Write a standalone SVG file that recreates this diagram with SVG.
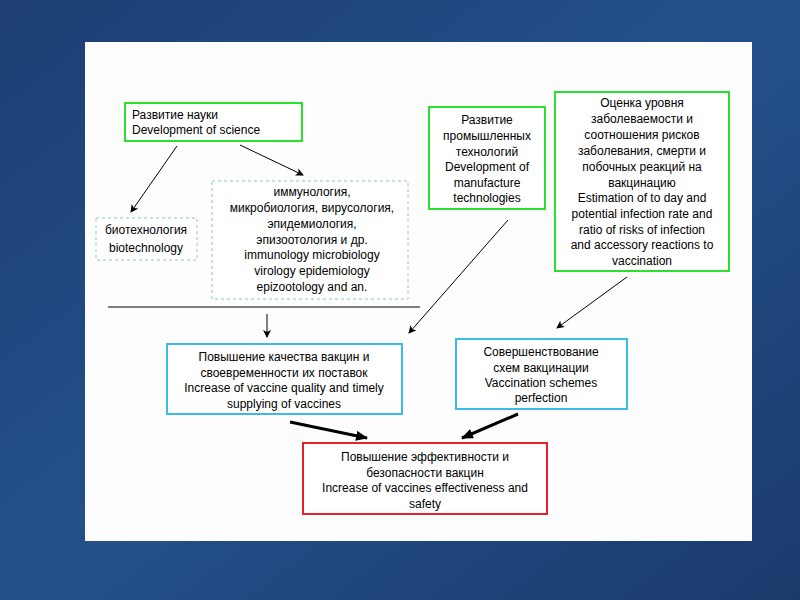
<svg xmlns="http://www.w3.org/2000/svg" width="800" height="600" viewBox="0 0 800 600">
<defs>
<linearGradient id="bg" x1="0" y1="0" x2="1" y2="1"><stop offset="0" stop-color="#1d3f73"/><stop offset="0.5" stop-color="#24508a"/><stop offset="1" stop-color="#1a3a6b"/></linearGradient>
<marker id="ah" markerWidth="8" markerHeight="8" refX="7" refY="4" orient="auto" markerUnits="userSpaceOnUse"><path d="M0,0 L8,4 L0,8 L2,4 Z" fill="#000"/></marker>
<marker id="ahb" markerWidth="12" markerHeight="10" refX="11" refY="5" orient="auto" markerUnits="userSpaceOnUse"><path d="M0,0 L12,5 L0,10 Z" fill="#000"/></marker>
<style>
text{font-family:"Liberation Sans",Arial,sans-serif;font-size:12px;fill:#000}
.c{text-anchor:middle}
.g{fill:#fff;stroke:#2ee02e;stroke-width:2}
.b{fill:#fff;stroke:#3bbbe8;stroke-width:2}
.r{fill:#fff;stroke:#e8202a;stroke-width:2}
.d{fill:#fff;stroke:#8fc8b8;stroke-width:1;stroke-dasharray:3 3}
.l{stroke:#000;stroke-width:1;fill:none}
.t{stroke:#000;stroke-width:3;fill:none}
</style>
</defs>
<rect width="800" height="600" fill="url(#bg)"/>
<rect x="85" y="42" width="667" height="499" fill="#fdfdfd"/>
<g id="science"><rect class="g" x="125" y="103" width="177" height="38"/><text x="132" y="119">Развитие науки</text><text x="132" y="134">Development of science</text></g>
<g id="biotech"><rect class="d" x="96" y="218" width="101" height="42"/><text class="c" x="146" y="234">биотехнология</text><text class="c" x="146" y="252">biotechnology</text></g>
<g id="disciplines"><rect class="d" x="212" y="181" width="196" height="118"/>
<text class="c" x="312" y="196">иммунология,</text><text class="c" x="312" y="212">микробиология, вирусология,</text><text class="c" x="312" y="228">эпидемиология,</text><text class="c" x="312" y="244">эпизоотология и др.</text><text class="c" x="312" y="259">immunology microbiology</text><text class="c" x="312" y="275">virology epidemiology</text><text class="c" x="312" y="291">epizootology and an.</text></g>
<g id="industry"><rect class="g" x="429" y="107" width="116" height="102"/>
<text class="c" x="487" y="124">Развитие</text><text class="c" x="487" y="140">промышленных</text><text class="c" x="487" y="156">технологий</text><text class="c" x="487" y="171">Development of</text><text class="c" x="487" y="187">manufacture</text><text class="c" x="487" y="202">technologies</text></g>
<g id="assessment"><rect class="g" x="555" y="92" width="174" height="179"/>
<text class="c" x="642" y="107">Оценка уровня</text><text class="c" x="642" y="123">заболеваемости  и</text><text class="c" x="642" y="139">соотношения рисков</text><text class="c" x="642" y="155">заболевания, смерти и</text><text class="c" x="642" y="171">побочных реакций на</text><text class="c" x="642" y="187">вакцинацию</text><text class="c" x="642" y="202">Estimation of to day and</text><text class="c" x="642" y="218">potential infection rate and</text><text class="c" x="642" y="234">ratio of risks of infection</text><text class="c" x="642" y="249">and accessory reactions to</text><text class="c" x="642" y="265">vaccination</text></g>
<g id="quality"><rect class="b" x="167" y="344" width="235" height="70"/>
<text class="c" x="284" y="361">Повышение качества вакцин и</text><text class="c" x="284" y="377">своевременности их поставок</text><text class="c" x="284" y="392">Increase of vaccine quality and timely</text><text class="c" x="284" y="408">supplying of vaccines</text></g>
<g id="schemes"><rect class="b" x="456" y="339" width="171" height="70"/>
<text class="c" x="541" y="356">Совершенствование</text><text class="c" x="541" y="372">схем вакцинации</text><text class="c" x="541" y="387">Vaccination schemes</text><text class="c" x="541" y="402">perfection</text></g>
<g id="result"><rect class="r" x="303" y="443" width="244" height="71"/>
<text class="c" x="425" y="461">Повышение эффективности и</text><text class="c" x="425" y="477">безопасности вакцин</text><text class="c" x="425" y="492">Increase of vaccines effectiveness and</text><text class="c" x="425" y="508">safety</text></g>
<g id="connectors">
<line class="l" x1="177" y1="146" x2="131" y2="212" marker-end="url(#ah)"/>
<line class="l" x1="240" y1="145" x2="303" y2="175" marker-end="url(#ah)"/>
<line class="l" x1="108" y1="307" x2="420" y2="307"/>
<line class="l" x1="267" y1="314" x2="267" y2="337" marker-end="url(#ah)"/>
<line class="l" x1="508" y1="220" x2="409" y2="333" marker-end="url(#ah)"/>
<line class="l" x1="627" y1="277" x2="557" y2="328" marker-end="url(#ah)"/>
<line class="t" x1="290" y1="422" x2="367" y2="438" marker-end="url(#ahb)"/>
<line class="t" x1="518" y1="414" x2="462" y2="438" marker-end="url(#ahb)"/>
</g>
</svg>
